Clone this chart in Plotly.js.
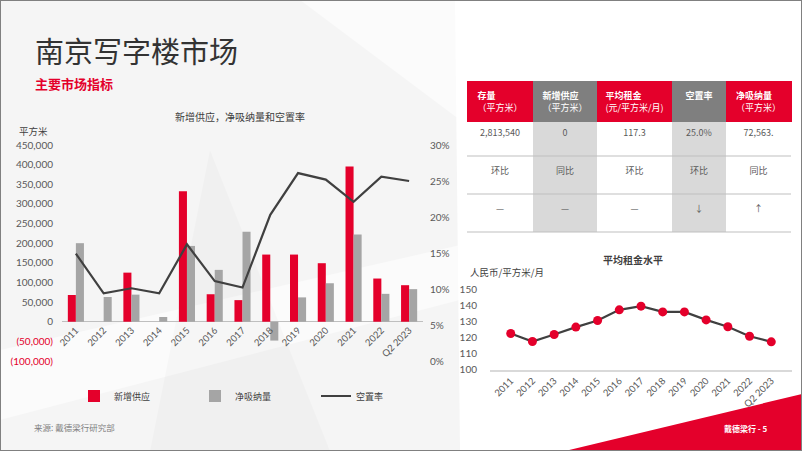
<!DOCTYPE html>
<html>
<head>
<meta charset="utf-8">
<script src="https://cdn.plot.ly/plotly-3.0.1.min.js"></script>
<style>html,body{margin:0;padding:0;background:#fff;}#chart{width:802px;height:451px;}</style>
</head>
<body>
<div id="chart"></div>
<script>
// ---------- data ----------
const years = ['2011','2012','2013','2014','2015','2016','2017','2018','2019','2020','2021','2022','Q2 2023'];
const newSupply = [68000, null, 125000, null, 332000, 70000, 55000, 171000, 171000, 149000, 395000, 110000, 93000];
const netAbsorption = [200000, 63000, 69000, 12000, 193000, 132000, 229000, -48000, 62000, 98000, 222000, 71000, 83000];
const vacancyRate = [0.149, 0.094, 0.101, 0.094, 0.162, 0.111, 0.102, 0.203, 0.261, 0.252, 0.221, 0.256, 0.250];
const rent = [122.5, 117.5, 121.9, 126.5, 130.6, 137.3, 139.6, 136.0, 136.0, 131.0, 126.7, 120.8, 117.3];

const leftTickVals = [-100000, -50000, 0, 50000, 100000, 150000, 200000, 250000, 300000, 350000, 400000, 450000];
const leftTickText = ['(100,000)', '(50,000)', '0', '50,000', '100,000', '150,000', '200,000', '250,000', '300,000', '350,000', '400,000', '450,000'];

const tableHeaders = ['<b>存量</b><br>（平方米）', '<b>新增供应</b><br>（平方米）', '<b>平均租金</b><br>(元/平方米/月)', '<b>空置率</b>', '<b>净吸纳量</b><br>（平方米）'];
const tableValues = ['2,813,540', '0', '117.3', '25.0%', '72,563.'];
const tableCompare = ['环比', '同比', '环比', '环比', '同比'];
const tableTrend = ['—', '—', '—', '↓', '↑'];

// ---------- helpers ----------
const W = 802, H = 451;
const X = px => px / W;
const Y = py => 1 - py / H;
const RED = '#e4002b', GRAY = '#a5a5a5', DARK = '#404040', TXT = '#595959';
const CJK = '"Noto Sans CJK SC", "Noto Sans", sans-serif';
const NUM = 'Lato, "Noto Sans", sans-serif';

const tickTextStyled = leftTickText.map((t, i) => leftTickVals[i] < 0 ? '<span style="color:#e4002b">' + t + '</span>' : t);

const traces = [
  {type: 'bar', name: '新增供应', x: years, y: newSupply, marker: {color: RED}, xaxis: 'x', yaxis: 'y'},
  {type: 'bar', name: '净吸纳量', x: years, y: netAbsorption, marker: {color: GRAY}, xaxis: 'x', yaxis: 'y'},
  {type: 'scatter', mode: 'lines', name: '空置率', x: years, y: vacancyRate, line: {color: DARK, width: 2.2}, xaxis: 'x', yaxis: 'y2'},
  {type: 'scatter', mode: 'lines+markers', name: '平均租金', x: years, y: rent, showlegend: false,
   line: {color: DARK, width: 2.2}, marker: {color: RED, size: 9}, xaxis: 'x2', yaxis: 'y3'},
  {type: 'table', domain: {x: [X(467), X(791)], y: [Y(232), Y(81)]},
   columnwidth: [66, 64, 75, 54, 65],
   header: {values: tableHeaders, height: 37, align: 'center',
            fill: {color: [RED, '#7f7f7f', RED, '#7f7f7f', RED]},
            line: {color: [RED, '#7f7f7f', RED, '#7f7f7f', RED], width: 1},
            font: {family: CJK, size: 9, color: '#ffffff'}},
   cells: {values: tableValues.map((v, i) => [v, tableCompare[i], tableTrend[i]]), height: 38, align: 'center',
           fill: {color: ['#ffffff', '#d9d9d9', '#ffffff', '#d9d9d9', '#ffffff']},
           line: {color: ['#ffffff', '#d9d9d9', '#ffffff', '#d9d9d9', '#ffffff'], width: 1},
           font: {family: CJK, size: 9, color: TXT}}}
];

const shapes = [
  // background faint geometry
  {type: 'path', path: `M0,${Y(0)} L${X(455)},${Y(0)} L${X(460)},${Y(451)} L0,${Y(451)} Z`, xref: 'paper', yref: 'paper', fillcolor: '#f5f5f5', line: {width: 0}, layer: 'below'},
  {type: 'path', path: `M0,${Y(350)} L${X(460)},${Y(245)} L${X(460)},${Y(300)} L0,${Y(420)} Z`, xref: 'paper', yref: 'paper', fillcolor: 'rgba(255,255,255,0.55)', line: {width: 0}, layer: 'below'},
  {type: 'path', path: `M${X(210)},${Y(150)} L${X(330)},${Y(451)} L${X(150)},${Y(451)} Z`, xref: 'paper', yref: 'paper', fillcolor: 'rgba(0,0,0,0.018)', line: {width: 0}, layer: 'below'},
  {type: 'path', path: `M${X(300)},${Y(0)} L${X(460)},${Y(0)} L${X(460)},${Y(120)} Z`, xref: 'paper', yref: 'paper', fillcolor: 'rgba(255,255,255,0.6)', line: {width: 0}, layer: 'below'},
  // red corner
  {type: 'path', path: `M${X(565)},${Y(451)} L${X(802)},${Y(394)} L${X(802)},${Y(451)} Z`, xref: 'paper', yref: 'paper', fillcolor: RED, line: {width: 0}, layer: 'below'},
  // table horizontal rules
  {type: 'line', xref: 'paper', yref: 'paper', x0: X(467), x1: X(791), y0: Y(156), y1: Y(156), line: {color: '#bfbfbf', width: 1}},
  {type: 'line', xref: 'paper', yref: 'paper', x0: X(467), x1: X(791), y0: Y(194), y1: Y(194), line: {color: '#bfbfbf', width: 1}},
  {type: 'line', xref: 'paper', yref: 'paper', x0: X(467), x1: X(791), y0: Y(232), y1: Y(232), line: {color: '#bfbfbf', width: 1}},
  // frame
  {type: 'rect', xref: 'paper', yref: 'paper', x0: 0, x1: 1, y0: 0, y1: 1, line: {color: '#808080', width: 2}, fillcolor: 'rgba(0,0,0,0)'}
];

const ann = (text, x, y, size, color, anchor, extra) => Object.assign({
  text, x: X(x), y: Y(y), xref: 'paper', yref: 'paper', showarrow: false,
  xanchor: anchor || 'left', yanchor: 'middle', font: {family: CJK, size, color}
}, extra || {});

const annotations = [
  ann('南京写字楼市场', 33, 50, 29, '#333333'),
  ann('<b>主要市场指标</b>', 33, 83, 13, RED),
  ann('新增供应，净吸纳量和空置率', 240, 117, 10, DARK, 'center'),
  ann('平方米', 17, 131, 9.5, DARK),
  ann('来源: 戴德梁行研究部', 32, 427, 8.5, '#7f7f7f'),
  ann('<b>平均租金水平</b>', 633, 259, 10, DARK, 'center'),
  ann('人民币/平方米/月', 468, 272, 9.5, DARK),
  ann('<b>戴德梁行 - 5</b>', 722, 428, 8, '#ffffff')
];

const layout = {
  width: W, height: H,
  margin: {l: 0, r: 0, t: 0, b: 0},
  paper_bgcolor: '#ffffff', plot_bgcolor: 'rgba(0,0,0,0)',
  barmode: 'group', bargap: 0.42, bargroupgap: 0,
  showlegend: true,
  legend: {orientation: 'h', x: X(74), y: Y(396), xanchor: 'left', yanchor: 'middle',
           font: {family: CJK, size: 9, color: DARK}, entrywidth: 76, entrywidthmode: 'pixels',
           bgcolor: 'rgba(0,0,0,0)'},
  xaxis: {domain: [X(62), X(423)], anchor: 'free', position: Y(322), type: 'category',
          tickangle: -45, showgrid: false, showline: false, ticks: '', 
          tickfont: {family: NUM, size: 9.5, color: TXT}, fixedrange: true},
  yaxis: {domain: [Y(361), Y(145)], range: [-100000, 450000], tickvals: leftTickVals, ticktext: tickTextStyled,
          showgrid: false, zeroline: true, zerolinecolor: '#bfbfbf', zerolinewidth: 1.5,
          ticks: 'outside', ticklen: 6, tickcolor: 'rgba(0,0,0,0)',
          tickfont: {family: NUM, size: 10, color: TXT}},
  yaxis2: {overlaying: 'y', side: 'right', range: [0, 0.30], dtick: 0.05, tickformat: '.0%',
           showgrid: false, zeroline: false, ticks: 'outside', ticklen: 4, tickcolor: 'rgba(0,0,0,0)',
           tickfont: {family: NUM, size: 10, color: TXT}},
  xaxis2: {domain: [X(490), X(792)], anchor: 'y3', type: 'category', tickangle: -45,
           showline: true, linecolor: '#d9d9d9', linewidth: 2, showgrid: false, ticks: '',
           tickfont: {family: NUM, size: 9.5, color: TXT}},
  yaxis3: {domain: [Y(369.5), Y(289.5)], range: [100, 150], dtick: 10, anchor: 'x2',
           showgrid: false, zeroline: false, ticks: 'outside', ticklen: 10, tickcolor: 'rgba(0,0,0,0)',
           tickfont: {family: NUM, size: 10, color: TXT}},
  shapes, annotations
};

Plotly.newPlot('chart', traces, layout, {displayModeBar: false, staticPlot: true});
</script>
</body>
</html>
